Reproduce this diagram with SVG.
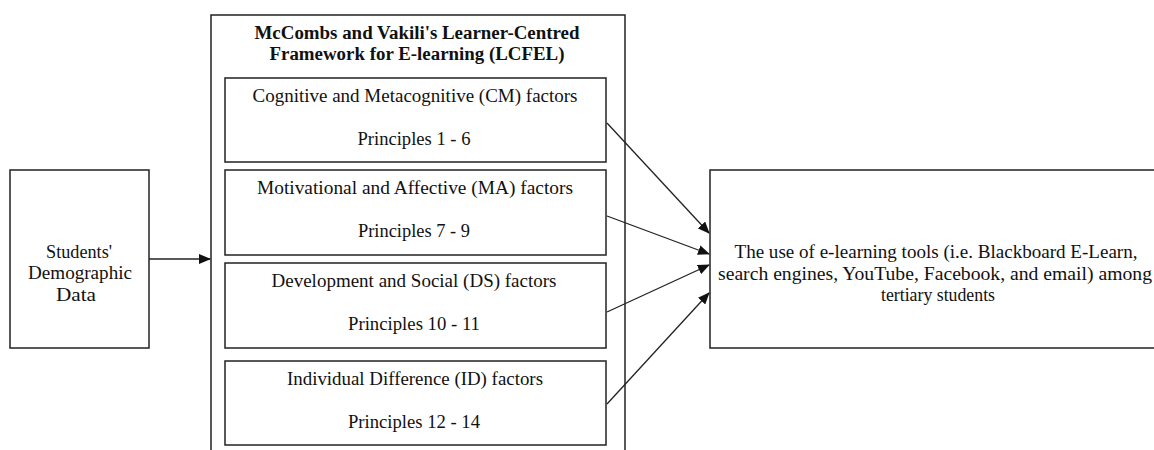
<svg xmlns="http://www.w3.org/2000/svg" width="1154" height="450" viewBox="0 0 1154 450">
<style>
.box{fill:#fff;stroke:#222;stroke-width:1.5}
.t{font-family:"Liberation Serif","Times New Roman",serif;font-size:18px;fill:#111;text-anchor:middle}
.b{font-weight:bold}
.c{stroke:#222;stroke-width:1.3;fill:none;marker-end:url(#ah)}
</style>
<defs>
<marker id="ah" markerWidth="12" markerHeight="10" refX="11" refY="5" orient="auto" markerUnits="userSpaceOnUse">
<path d="M0,0 L12,5 L0,10 Z" fill="#111"/>
</marker>
</defs>
<rect width="1154" height="450" fill="#fff"/>
<g id="demographic">
<rect class="box" x="10" y="170" width="139" height="178"/>
<text class="t" x="79" y="258" textLength="66" lengthAdjust="spacingAndGlyphs">Students'</text>
<text class="t" x="80" y="279" textLength="104" lengthAdjust="spacingAndGlyphs">Demographic</text>
<text class="t" x="76" y="301" textLength="40" lengthAdjust="spacingAndGlyphs">Data</text>
</g>
<g id="lcfel">
<rect class="box" x="211" y="15" width="414" height="450"/>
<text class="t b" x="417" y="39" textLength="325" lengthAdjust="spacingAndGlyphs">McCombs and Vakili's Learner-Centred</text>
<text class="t b" x="417" y="60" textLength="295" lengthAdjust="spacingAndGlyphs">Framework for E-learning (LCFEL)</text>
</g>
<g id="cm">
<rect class="box" x="225" y="78" width="381" height="84"/>
<text class="t" x="415" y="102" textLength="325" lengthAdjust="spacingAndGlyphs">Cognitive and Metacognitive (CM) factors</text>
<text class="t" x="414" y="145" textLength="113" lengthAdjust="spacingAndGlyphs">Principles  1 - 6</text>
</g>
<g id="ma">
<rect class="box" x="225" y="170" width="381" height="85"/>
<text class="t" x="415" y="194" textLength="316" lengthAdjust="spacingAndGlyphs">Motivational and Affective (MA) factors</text>
<text class="t" x="414" y="237" textLength="112" lengthAdjust="spacingAndGlyphs">Principles  7 - 9</text>
</g>
<g id="ds">
<rect class="box" x="225" y="263" width="381" height="85"/>
<text class="t" x="414" y="287" textLength="285" lengthAdjust="spacingAndGlyphs">Development and Social (DS) factors</text>
<text class="t" x="414" y="330" textLength="132" lengthAdjust="spacingAndGlyphs">Principles  10 - 11</text>
</g>
<g id="id">
<rect class="box" x="225" y="361" width="381" height="84"/>
<text class="t" x="415" y="385" textLength="256" lengthAdjust="spacingAndGlyphs">Individual Difference (ID) factors</text>
<text class="t" x="414" y="428" textLength="132" lengthAdjust="spacingAndGlyphs">Principles  12 - 14</text>
</g>
<g id="outcome">
<rect class="box" x="710" y="170" width="460" height="178"/>
<text class="t" x="936" y="258" textLength="403" lengthAdjust="spacingAndGlyphs">The use of e-learning tools (i.e.  Blackboard E-Learn,</text>
<text class="t" x="935" y="280" textLength="434" lengthAdjust="spacingAndGlyphs">search engines, YouTube, Facebook, and email) among</text>
<text class="t" x="938" y="301" textLength="114" lengthAdjust="spacingAndGlyphs">tertiary students</text>
</g>
<g id="connectors">
<line class="c" x1="149" y1="259" x2="210" y2="259"/>
<line class="c" x1="607" y1="123" x2="709" y2="233"/>
<line class="c" x1="607" y1="216" x2="709" y2="254"/>
<line class="c" x1="607" y1="312" x2="709" y2="265"/>
<line class="c" x1="607" y1="404" x2="709" y2="293"/>
</g>
</svg>
